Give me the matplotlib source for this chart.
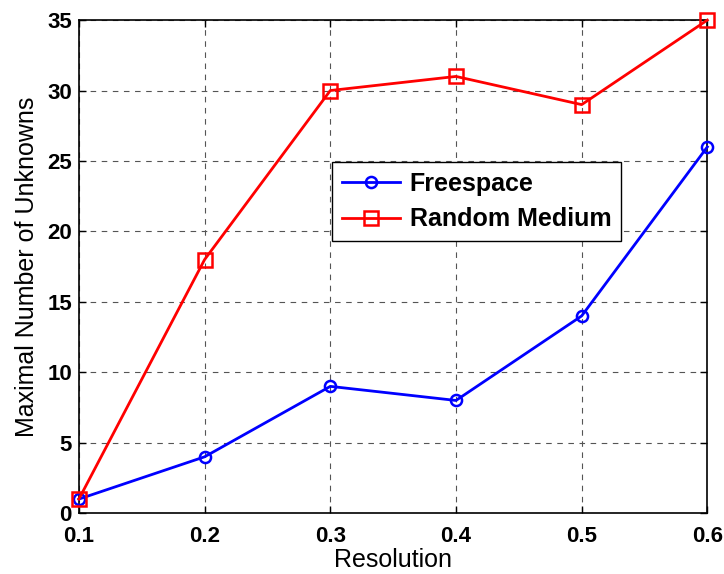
import matplotlib
matplotlib.use("Agg")
import matplotlib.pyplot as plt

resolution = [0.1, 0.2, 0.3, 0.4, 0.5, 0.6]
freespace = [1, 4, 9, 8, 14, 26]
random_medium = [1, 18, 30, 31, 29, 35]

plt.rcParams["font.family"] = ["Liberation Sans", "DejaVu Sans"]

fig = plt.figure(figsize=(7.24, 5.74), dpi=100)
ax = fig.add_axes([0.109, 0.106, 0.868, 0.859])

ax.plot(resolution, freespace, "b-o", lw=2, ms=8, mfc="none", mew=1.8,
        label="Freespace", clip_on=False, zorder=3)
ax.plot(resolution, random_medium, "r-s", lw=2, ms=9.5, mfc="none", mew=1.8,
        label="Random Medium", clip_on=False, zorder=4)

ax.set_xlim(0.1, 0.6)
ax.set_ylim(0, 35)
ax.set_xticks(resolution)
ax.set_yticks(range(0, 36, 5))
ax.set_xticklabels(["0.1", "0.2", "0.3", "0.4", "0.5", "0.6"])
ax.tick_params(direction="in", labelsize=16, length=5, width=1,
               top=True, right=True)
ax.tick_params(axis="x", pad=9)
ax.tick_params(axis="y", pad=5)
for lab in ax.get_xticklabels() + ax.get_yticklabels():
    lab.set_fontweight("bold")

ax.grid(True, color="#555555", linestyle=(0, (5, 5)), lw=0.8)
for sp in ax.spines.values():
    sp.set_linewidth(1.2)

ax.set_xlabel("Resolution", fontsize=18, labelpad=1)
ax.set_ylabel("Maximal Number of Unknowns", fontsize=18, labelpad=6)

leg = ax.legend(loc="upper left", bbox_to_anchor=(0.403, 0.712),
                prop={"weight": "bold", "size": 18}, fancybox=False,
                edgecolor="black", framealpha=1, borderpad=0.4,
                handlelength=2.3, handletextpad=0.4, labelspacing=0.45,
                borderaxespad=0)
leg.get_frame().set_linewidth(1.0)

fig.savefig("out.png", dpi=100)
